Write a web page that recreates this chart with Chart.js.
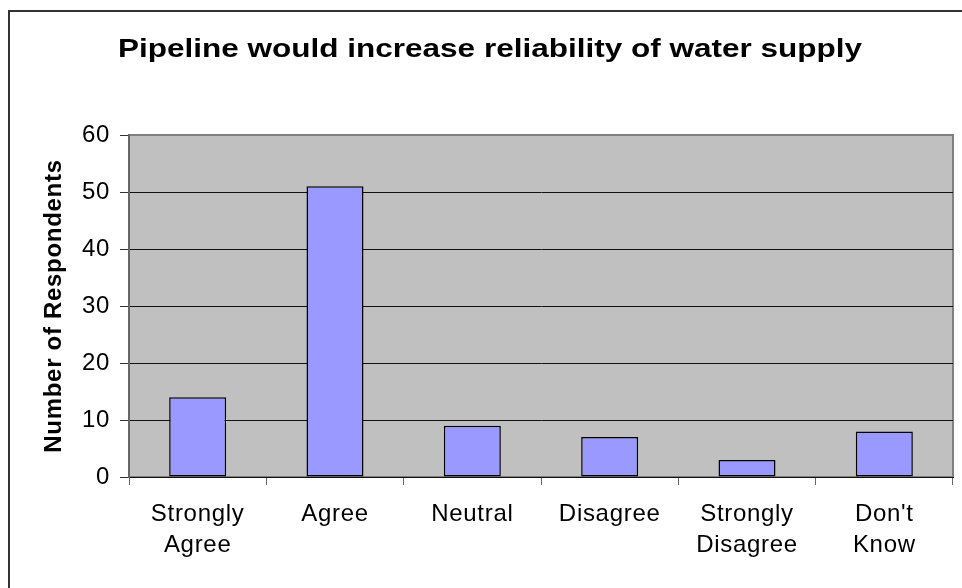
<!DOCTYPE html>
<html>
<head>
<meta charset="utf-8">
<script src="https://cdn.jsdelivr.net/npm/chart.js@4.4.1/dist/chart.umd.min.js"></script>
<style>
  html, body { margin: 0; padding: 0; background: #fff; }
  #wrap { width: 962px; height: 588px; }
</style>
</head>
<body>
<div id="wrap"><canvas id="myChart" width="962" height="588"></canvas></div>
<script>
const chartTitle = 'Pipeline would increase reliability of water supply';
const categories = [['Strongly', 'Agree'], 'Agree', 'Neutral', 'Disagree', ['Strongly', 'Disagree'], ["Don't", 'Know']];
const respondents = [14, 51, 9, 7, 3, 8];
const yTicks = [0, 10, 20, 30, 40, 50, 60];

const FONT = "'Liberation Sans', Arial, sans-serif";

// wide-set lettering, like the old spreadsheet export
const letterSpace = {
  id: 'letterSpace',
  beforeUpdate(chart) { chart.ctx.letterSpacing = '0.7px'; },
  beforeDraw(chart) { chart.ctx.letterSpacing = '0.7px'; }
};

// gray plot area + frame around the whole chart
const plotBack = {
  id: 'plotBack',
  beforeDraw(chart) {
    const { ctx, chartArea: { left, top, right, bottom } } = chart;
    ctx.save();
    ctx.fillStyle = '#fff';
    ctx.fillRect(0, 0, chart.width, chart.height);
    ctx.strokeStyle = '#333';
    ctx.lineWidth = 2;
    ctx.strokeRect(9, 11, chart.width + 20, chart.height + 20);
    ctx.fillStyle = '#c0c0c0';
    ctx.fillRect(left, top, right - left, bottom - top);
    ctx.strokeStyle = '#808080';
    ctx.lineWidth = 2;
    ctx.strokeRect(left, top, right - left, bottom - top);
    ctx.restore();
  }
};

// title, stretched wider than the font draws it
const wideTitle = {
  id: 'wideTitle',
  afterDraw(chart) {
    const { ctx } = chart;
    ctx.save();
    ctx.letterSpacing = '0px';
    ctx.font = 'bold 25px ' + FONT;
    ctx.fillStyle = '#000';
    ctx.textAlign = 'center';
    ctx.textBaseline = 'middle';
    ctx.translate(490, 50);
    ctx.scale(1.26, 1);
    ctx.fillText(chartTitle, 0, 0);
    ctx.restore();
  }
};

const config = {
  type: 'bar',
  data: {
    labels: categories,
    datasets: [{
      data: respondents,
      backgroundColor: '#9999ff',
      borderColor: '#000',
      borderWidth: 1.5,
      borderSkipped: false,
      categoryPercentage: 1,
      barPercentage: 0.415
    }]
  },
  options: {
    responsive: false,
    animation: false,
    layout: { padding: { left: 40, right: 9, top: 135, bottom: 0 } },
    plugins: {
      legend: { display: false },
      tooltip: { enabled: false },
      title: { display: false }
    },
    scales: {
      x: {
        afterFit(scale) { scale.height = 111; },
        grid: {
          offset: true,
          drawOnChartArea: false,
          tickLength: 8,
          tickColor: '#666'
        },
        border: { color: '#111', width: 1 },
        ticks: {
          color: '#000',
          padding: 14,
          maxRotation: 0,
          font: { family: FONT, size: 24, lineHeight: 1.3 }
        }
      },
      y: {
        min: 0,
        max: 60,
        afterFit(scale) { scale.width = 89; },
        afterBuildTicks(scale) { scale.ticks = yTicks.map(v => ({ value: v })); },
        grid: {
          color: ctx => ctx.tick && ctx.tick.value === 60 ? 'rgba(0,0,0,0)' : '#111',
          tickColor: '#333',
          tickLength: 9,
          lineWidth: 1
        },
        border: { color: '#666', width: 2 },
        ticks: {
          color: '#000',
          padding: 10,
          font: { family: FONT, size: 24 }
        },
        title: {
          display: true,
          text: 'Number of Respondents',
          color: '#000',
          padding: 0,
          font: { family: FONT, size: 24, weight: 'bold', lineHeight: 1.2 }
        }
      }
    }
  },
  plugins: [letterSpace, plotBack, wideTitle]
};

const chart = new Chart(document.getElementById('myChart'), config);
</script>
</body>
</html>
